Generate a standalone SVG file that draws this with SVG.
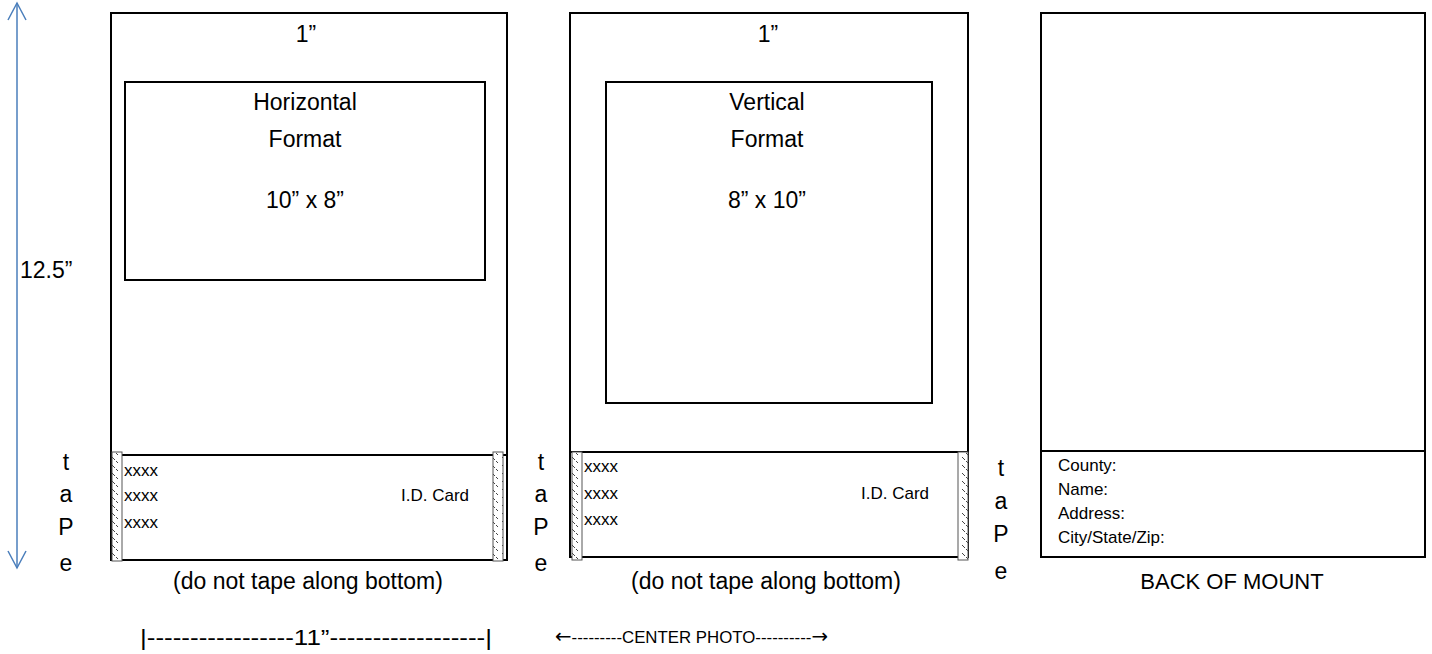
<svg xmlns="http://www.w3.org/2000/svg" width="1432" height="654" viewBox="0 0 1432 654">
<style>
.b{fill:none;stroke:#000;stroke-width:2}
.t{font-family:"Liberation Sans",Arial,sans-serif;fill:#000}
.s{font-size:17px}
.m{font-size:23px}
.l{font-size:23px}
.tape{fill:url(#hatch);stroke:#555;stroke-width:1}
.arr{fill:none;stroke:#4a7ebb;stroke-width:1.5}
</style>
<defs>
<pattern id="hatch" width="10" height="8" patternUnits="userSpaceOnUse">
<rect width="10" height="8" fill="#fff"/>
<path d="M2 1 L5 4 M6 5 L8 7" stroke="#444" stroke-width="1"/>
</pattern>
</defs>

<g id="connectors">
<line class="arr" x1="17" y1="568" x2="17" y2="3"/>
<path class="arr" d="M8 20 L17 3 L26 20"/>
<path class="arr" d="M8 551 L17 568 L26 551"/>
</g>
<text class="t m" x="20" y="278">12.5”</text>

<g id="mount-horizontal">
<rect class="b" x="111" y="13" width="396" height="547"/>
<line class="b" x1="111" y1="455" x2="507" y2="455"/>
<rect class="b" x="125" y="82" width="360" height="198"/>
<text class="t l" x="306" y="42" text-anchor="middle">1”</text>
<text class="t l" x="305" y="110" text-anchor="middle">Horizontal</text>
<text class="t l" x="305" y="147" text-anchor="middle">Format</text>
<text class="t l" x="305" y="208" text-anchor="middle">10” x 8”</text>
<rect class="tape" x="112" y="452" width="10" height="109"/>
<rect class="tape" x="493" y="452" width="10" height="109"/>
<text class="t s" x="124" y="476">xxxx</text>
<text class="t s" x="124" y="501">xxxx</text>
<text class="t s" x="124" y="528">xxxx</text>
<text class="t s" x="401" y="501">I.D. Card</text>
<text class="t m" x="308" y="589" text-anchor="middle">(do not tape along bottom)</text>
</g>

<g id="mount-vertical">
<rect class="b" x="570" y="13" width="398" height="544"/>
<line class="b" x1="570" y1="452" x2="968" y2="452"/>
<rect class="b" x="606" y="82" width="326" height="321"/>
<text class="t l" x="768" y="42" text-anchor="middle">1”</text>
<text class="t l" x="767" y="110" text-anchor="middle">Vertical</text>
<text class="t l" x="767" y="147" text-anchor="middle">Format</text>
<text class="t l" x="767" y="208" text-anchor="middle">8” x 10”</text>
<rect class="tape" x="572" y="452" width="10" height="108"/>
<rect class="tape" x="958" y="452" width="10" height="108"/>
<text class="t s" x="584" y="472">xxxx</text>
<text class="t s" x="584" y="499">xxxx</text>
<text class="t s" x="584" y="525">xxxx</text>
<text class="t s" x="861" y="499">I.D. Card</text>
<text class="t m" x="766" y="589" text-anchor="middle">(do not tape along bottom)</text>
</g>

<g id="mount-back">
<rect class="b" x="1041" y="13" width="384" height="544"/>
<line class="b" x1="1041" y1="451" x2="1425" y2="451"/>
<text class="t s" x="1058" y="471">County:</text>
<text class="t s" x="1058" y="495">Name:</text>
<text class="t s" x="1058" y="519">Address:</text>
<text class="t s" x="1058" y="543">City/State/Zip:</text>
<text class="t" style="font-size:22px" x="1232" y="589" text-anchor="middle">BACK OF MOUNT</text>
</g>

<g id="tape-labels" class="t m" text-anchor="middle">
<text x="66" y="470">t</text>
<text x="66" y="502">a</text>
<text x="66" y="535">P</text>
<text x="66" y="571">e</text>
<text x="541" y="470">t</text>
<text x="541" y="502">a</text>
<text x="541" y="535">P</text>
<text x="541" y="571">e</text>
<text x="1001" y="476">t</text>
<text x="1001" y="509">a</text>
<text x="1001" y="542">P</text>
<text x="1001" y="579">e</text>
</g>

<text class="t" style="font-size:22px" x="140" y="645" textLength="352" lengthAdjust="spacingAndGlyphs">|-----------------11”------------------|</text>
<text class="t" style="font-size:17px" x="555" y="643" textLength="273" lengthAdjust="spacingAndGlyphs"><tspan style="font-family:'DejaVu Sans',sans-serif;font-size:20px">←</tspan>---------CENTER PHOTO----------<tspan style="font-family:'DejaVu Sans',sans-serif;font-size:20px">→</tspan></text>
</svg>
